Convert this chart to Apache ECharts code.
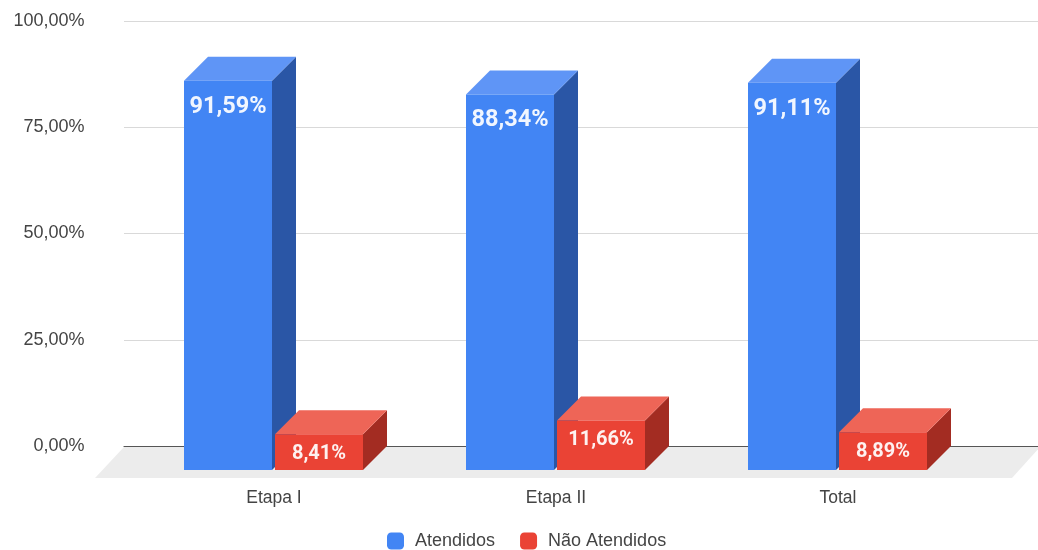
<!DOCTYPE html>
<html><head><meta charset="utf-8">
<style>html,body{margin:0;padding:0;background:#fff}#c{width:1038px;height:550px}</style>
<script src="https://cdn.jsdelivr.net/npm/echarts@6/dist/echarts.min.js"></script>
</head><body><div id="c"></div>
<script>
const categories = ['Etapa I', 'Etapa II', 'Total'];
const atendidos = [91.59, 88.34, 91.11];
const naoAtendidos = [8.41, 11.66, 8.89];
const yMin = 0, yMax = 100, yStep = 25;
const DEPTH = 24, FONT = '"Liberation Sans", Arial, sans-serif', LABEL_FONT = 'Roboto, sans-serif';

const fmt = v => v.toFixed(2).replace('.', ',') + '%';

function barRenderer(from, to, colors, labelSize, labelOffset) {
  return function (params, api) {
    const idx = api.value(0), val = api.value(1);
    const c = api.coord([idx, val]), base = api.coord([idx, 0]);
    const x0 = c[0] + from, x1 = c[0] + to;
    const yT = c[1] + DEPTH, yB = base[1] + DEPTH;
    const d = DEPTH;
    return {
      type: 'group',
      children: [
        { type: 'polygon', shape: { points: [[x1, yT], [x1 + d, yT - d], [x1 + d, yB - d], [x1, yB]] }, style: { fill: colors.side } },
        { type: 'polygon', shape: { points: [[x0, yT], [x0 + d, yT - d], [x1 + d, yT - d], [x1, yT]] }, style: { fill: colors.top } },
        { type: 'rect', shape: { x: x0, y: yT, width: x1 - x0, height: yB - yT }, style: { fill: colors.front } },
        { type: 'text', x: (x0 + x1) / 2, y: yT + labelOffset,
          style: { text: fmt(val), fill: '#ffffff', font: 'bold ' + labelSize + 'px ' + LABEL_FONT, align: 'center', verticalAlign: 'middle', opacity: 0.93 } }
      ]
    };
  };
}

const chart = echarts.init(document.getElementById('c'), null, { renderer: 'canvas' });
chart.setOption({
  animation: false,
  backgroundColor: '#ffffff',
  grid: [
    { left: 133, right: 59, top: 21, bottom: 104 },
    { left: 124, right: 0, top: 21, bottom: 104 }
  ],
  xAxis: [
    { type: 'category', gridIndex: 0, data: categories, axisLine: { show: false }, axisTick: { show: false },
      axisLabel: { color: '#444444', fontFamily: FONT, fontSize: 17.5, margin: 43 } },
    { type: 'value', gridIndex: 1, min: 0, max: 1, z: 2, axisLabel: { show: false }, axisTick: { show: false },
      splitLine: { show: false }, axisLine: { show: true, lineStyle: { color: '#555555', width: 1.2 } } }
  ],
  yAxis: [
    { type: 'value', gridIndex: 0, min: yMin, max: yMax, interval: yStep, show: false },
    { type: 'value', gridIndex: 1, min: yMin, max: yMax, interval: yStep, z: 2,
      axisLine: { show: false }, axisTick: { show: false },
      axisLabel: { margin: 39.5, color: '#444444', fontFamily: FONT, fontSize: 18, formatter: v => fmt(v) },
      splitLine: { show: true, showMinLine: false, lineStyle: { color: '#d9d9d9', width: 1 } } }
  ],
  legend: {
    data: ['Atendidos', 'Não Atendidos'], left: 382, top: 527, icon: 'roundRect',
    itemWidth: 17, itemHeight: 17, itemGap: 25,
    textStyle: { color: '#444444', fontFamily: FONT, fontSize: 18, padding: [0, 0, 0, 6] }
  },
  series: [
    { type: 'custom', name: 'floor', xAxisIndex: 1, yAxisIndex: 1, z: 1, silent: true, data: [[0, 0]],
      renderItem: (p, api) => {
        const a = api.coord([0, 0]), b = api.coord([1, 0]);
        return { type: 'polygon', shape: { points: [[a[0], a[1] + 1], [b[0] + 2, b[1] + 1], [b[0] - 26, b[1] + 32], [a[0] - 29, a[1] + 32]] }, style: { fill: '#ececec' } };
      } },
    { type: 'custom', name: 'Atendidos', xAxisIndex: 0, yAxisIndex: 0, z: 5,
      itemStyle: { color: '#4285f4' },
      data: atendidos.map((v, i) => [i, v]), encode: { x: 0, y: 1 },
      renderItem: barRenderer(-90, -2, { front: '#4285f4', top: '#5f95f6', side: '#2a56a6' }, 23.5, 26) },
    { type: 'custom', name: 'Não Atendidos', xAxisIndex: 0, yAxisIndex: 0, z: 5,
      itemStyle: { color: '#ea4335' },
      data: naoAtendidos.map((v, i) => [i, v]), encode: { x: 0, y: 1 },
      renderItem: barRenderer(1, 89, { front: '#ea4335', top: '#ee6557', side: '#a32c22' }, 20, 20) }
  ]
});
</script></body></html>
